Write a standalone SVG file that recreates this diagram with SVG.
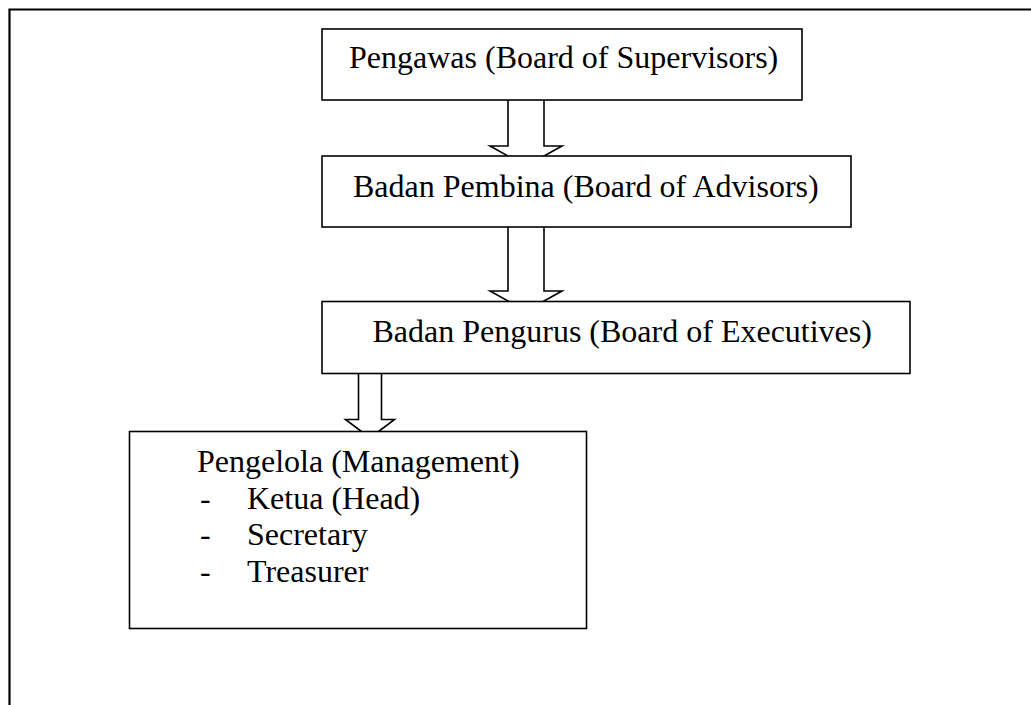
<svg xmlns="http://www.w3.org/2000/svg" width="1031" height="705" viewBox="0 0 1031 705">
<style>
.box{fill:#fff;stroke:#000;stroke-width:1.6}
.arr{fill:#fff;stroke:#000;stroke-width:1.6;stroke-linejoin:miter}
.t{font-family:"Liberation Serif","Times New Roman",serif;font-size:32px;fill:#000}
.frame{fill:none;stroke:#000;stroke-width:2.2}
</style>
<rect width="1031" height="705" fill="#fff"/>
<path class="frame" d="M1031 9.5 H9.5 V705"/>
<g id="connectors">
<path class="arr" d="M508 100 V146 H490 L526 166 L562 146 H544 V100"/>
<path class="arr" d="M508 227 V291 H490 L526 311 L562 291 H544 V227"/>
<path class="arr" d="M358.5 373.5 V419.5 H345.5 L370 438 L394.5 419.5 H381.5 V373.5"/>
</g>
<g id="pengawas">
<rect class="box" x="322" y="29" width="480" height="71"/>
<text class="t" x="349" y="68">Pengawas (Board of Supervisors)</text>
</g>
<g id="pembina">
<rect class="box" x="322" y="156" width="529" height="71"/>
<text class="t" x="353" y="196.5">Badan Pembina (Board of Advisors)</text>
</g>
<g id="pengurus">
<rect class="box" x="322" y="301.5" width="588" height="72"/>
<text class="t" x="372.5" y="342">Badan Pengurus (Board of Executives)</text>
</g>
<g id="pengelola">
<rect class="box" x="129.5" y="431.5" width="457" height="197"/>
<text class="t" x="197" y="472">Pengelola (Management)</text>
<text class="t" x="200" y="508.5">-</text>
<text class="t" x="247" y="508.5">Ketua (Head)</text>
<text class="t" x="200" y="545">-</text>
<text class="t" x="247" y="545">Secretary</text>
<text class="t" x="200" y="582">-</text>
<text class="t" x="247" y="582">Treasurer</text>
</g>
</svg>
